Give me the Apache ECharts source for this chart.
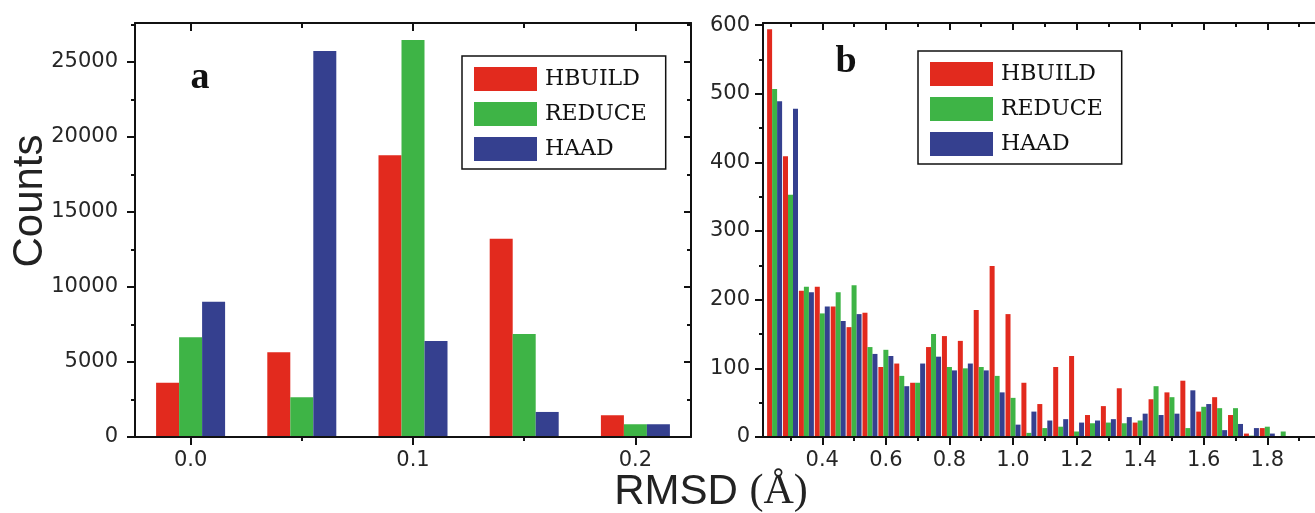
<!DOCTYPE html>
<html>
<head>
<meta charset="utf-8">
<script src="https://cdn.jsdelivr.net/npm/echarts@6/dist/echarts.min.js"></script>
<style>
html,body{margin:0;padding:0;background:#fff;}
#c{width:1315px;height:513px;}
</style>
</head>
<body>
<div id="c"></div>
<script>
// ---------- data ----------
const seriesNames = ['HBUILD', 'REDUCE', 'HAAD'];

// panel a
const catsA = ['0.0', '0.05', '0.1', '0.15', '0.2'];
const hbuildA = [3620, 5650, 18780, 13220, 1450];
const reduceA = [6650, 2650, 26470, 6870, 850];
const haadA = [9020, 25730, 6400, 1670, 850];
const majorYA = [0, 5000, 10000, 15000, 20000, 25000];
const minorYA = [2500, 7500, 12500, 17500, 22500, 27500];

// panel b
const binsB = [0.25, 0.30, 0.35, 0.40, 0.45, 0.50, 0.55, 0.60, 0.65, 0.70, 0.75, 0.80, 0.85, 0.90, 0.95,
  1.00, 1.05, 1.10, 1.15, 1.20, 1.25, 1.30, 1.35, 1.40, 1.45, 1.50, 1.55, 1.60, 1.65, 1.70, 1.75, 1.80, 1.85];
const hbuildB = [594, 409, 213, 219, 190, 160, 181, 102, 107, 79, 131, 147, 140, 185, 249,
  179, 79, 48, 102, 118, 32, 45, 71, 21, 55, 65, 82, 37, 58, 32, 5, 13, 0];
const reduceB = [507, 353, 219, 180, 211, 221, 131, 127, 89, 79, 150, 102, 100, 102, 89,
  57, 6, 13, 15, 8, 20, 21, 20, 24, 74, 58, 13, 44, 42, 42, 2, 15, 8];
const haadB = [489, 478, 211, 190, 169, 179, 121, 118, 74, 107, 117, 97, 107, 97, 65,
  18, 37, 24, 26, 21, 24, 26, 29, 34, 32, 34, 68, 48, 10, 19, 13, 5, 0];
const majorXB = [0.4, 0.6, 0.8, 1.0, 1.2, 1.4, 1.6, 1.8];
const minorXB = [0.3, 0.5, 0.7, 0.9, 1.1, 1.3, 1.5, 1.7, 1.9];
const majorYB = [0, 100, 200, 300, 400, 500, 600];
const minorYB = [50, 150, 250, 350, 450, 550];

// ---------- styles ----------
const INK = '#111';
const COLORS = ['#e22a1e', '#3eb446', '#35408f'];
const plain = v => String(Math.round(v));
const fmt1 = v => Number(v).toFixed(1);

function mk(gridIndex, position, base, o) {
  return Object.assign({
    gridIndex: gridIndex,
    position: position,
    axisLine: { show: !!o.line, onZero: false, lineStyle: { color: INK, width: 2 } },
    axisTick: o.tick ? Object.assign({ show: true, lineStyle: { color: INK, width: 2 } }, o.tick) : { show: false },
    axisLabel: o.label ? Object.assign({ show: true, color: '#262626', fontFamily: 'DejaVu Sans', fontSize: 21 }, o.label) : { show: false },
    splitLine: { show: false },
    z: 5
  }, base);
}

const bxA = { type: 'category', data: catsA, boundaryGap: true };
const byA = { type: 'value', min: 0, max: 27600 };
const bxB = { type: 'value', min: 0.2135, max: 1.95 };
const byB = { type: 'value', min: 0, max: 603 };

const xAxes = [
  mk(0, 'bottom', bxA, { line: true, tick: { length: 8, interval: 1, alignWithLabel: true }, label: { interval: 1, margin: 13 } }),
  mk(0, 'bottom', bxA, { tick: { length: 4, interval: 0, alignWithLabel: true } }),
  mk(0, 'top', bxA, { line: true, tick: { length: 8, interval: 1, alignWithLabel: true, inside: true } }),
  mk(0, 'top', bxA, { tick: { length: 5, interval: 0, alignWithLabel: true, inside: true } }),
  mk(1, 'bottom', bxB, { line: true, tick: { length: 8, customValues: majorXB }, label: { customValues: majorXB, formatter: fmt1, margin: 13 } }),
  mk(1, 'bottom', bxB, { tick: { length: 4, customValues: minorXB } }),
  mk(1, 'top', bxB, { line: true, tick: { length: 7, inside: true, customValues: majorXB } }),
  mk(1, 'top', bxB, { tick: { length: 4, inside: true, customValues: minorXB } })
];
const yAxes = [
  mk(0, 'left', byA, { line: true, tick: { length: 8, customValues: majorYA }, label: { customValues: majorYA, formatter: plain, margin: 17 } }),
  mk(0, 'left', byA, { tick: { length: 4, customValues: minorYA } }),
  mk(0, 'right', byA, { line: true, tick: { length: 7, inside: true, customValues: majorYA } }),
  mk(0, 'right', byA, { tick: { length: 4, inside: true, customValues: minorYA } }),
  mk(1, 'left', byB, { line: true, tick: { length: 8, customValues: majorYB }, label: { customValues: majorYB, formatter: plain, margin: 13 } }),
  mk(1, 'left', byB, { tick: { length: 4, customValues: minorYB } })
];

const valsA = [hbuildA, reduceA, haadA];
const valsB = [hbuildB, reduceB, haadB];
const series = [];
seriesNames.forEach((n, k) => {
  series.push({
    type: 'bar', name: n, xAxisIndex: 0, yAxisIndex: 0, data: valsA[k],
    barWidth: 23, barGap: '0%', itemStyle: { color: COLORS[k] }, z: 2
  });
});
seriesNames.forEach((n, k) => {
  series.push({
    type: 'bar', name: n, xAxisIndex: 4, yAxisIndex: 4,
    data: binsB.map((x, i) => [x, valsB[k][i]]),
    barWidth: 5, barGap: '0%', itemStyle: { color: COLORS[k] }, z: 2
  });
});

function legendAt(left, top) {
  return {
    data: seriesNames, left: left, top: top, orient: 'vertical',
    itemWidth: 63, itemHeight: 24, itemGap: 11, icon: 'rect',
    padding: [11, 19, 8, 12], borderColor: INK, borderWidth: 1.5,
    backgroundColor: '#fff', selectedMode: false,
    textStyle: { fontFamily: 'DejaVu Serif', fontSize: 22, color: '#111', padding: [0, 0, 0, 3] }
  };
}

const option = {
  animation: false,
  backgroundColor: '#fff',
  grid: [
    { left: 135, top: 23, width: 556, height: 414 },
    { left: 763, top: 23, width: 577.4, height: 414 }
  ],
  xAxis: xAxes,
  yAxis: yAxes,
  legend: [legendAt(462, 56), legendAt(918, 51)],
  series: series,
  graphic: [
    { type: 'text', x: 30, y: 201, rotation: Math.PI / 2, z: 10,
      style: { text: 'Counts', fontFamily: 'Liberation Sans', fontSize: 42, fill: '#222',
        textAlign: 'center', textVerticalAlign: 'middle', align: 'center', verticalAlign: 'middle' } },
    { type: 'text', x: 711, y: 492, z: 10,
      style: { text: '{s|RMSD }{t|(Å)}', fill: '#222',
        textAlign: 'center', textVerticalAlign: 'middle', align: 'center', verticalAlign: 'middle',
        rich: { s: { fontFamily: 'Liberation Sans', fontSize: 42, fill: '#222' },
                t: { fontFamily: 'Liberation Serif', fontSize: 42, fill: '#222' } } } },
    { type: 'text', x: 200, y: 78, z: 10,
      style: { text: 'a', fontFamily: 'Liberation Serif', fontWeight: 'bold', fontSize: 38, fill: '#111',
        textAlign: 'center', textVerticalAlign: 'middle', align: 'center', verticalAlign: 'middle' } },
    { type: 'text', x: 846, y: 62, z: 10,
      style: { text: 'b', fontFamily: 'Liberation Serif', fontWeight: 'bold', fontSize: 38, fill: '#111',
        textAlign: 'center', textVerticalAlign: 'middle', align: 'center', verticalAlign: 'middle' } }
  ]
};

const chart = echarts.init(document.getElementById('c'), null, { renderer: 'canvas' });
chart.setOption(option);
</script>
</body>
</html>
